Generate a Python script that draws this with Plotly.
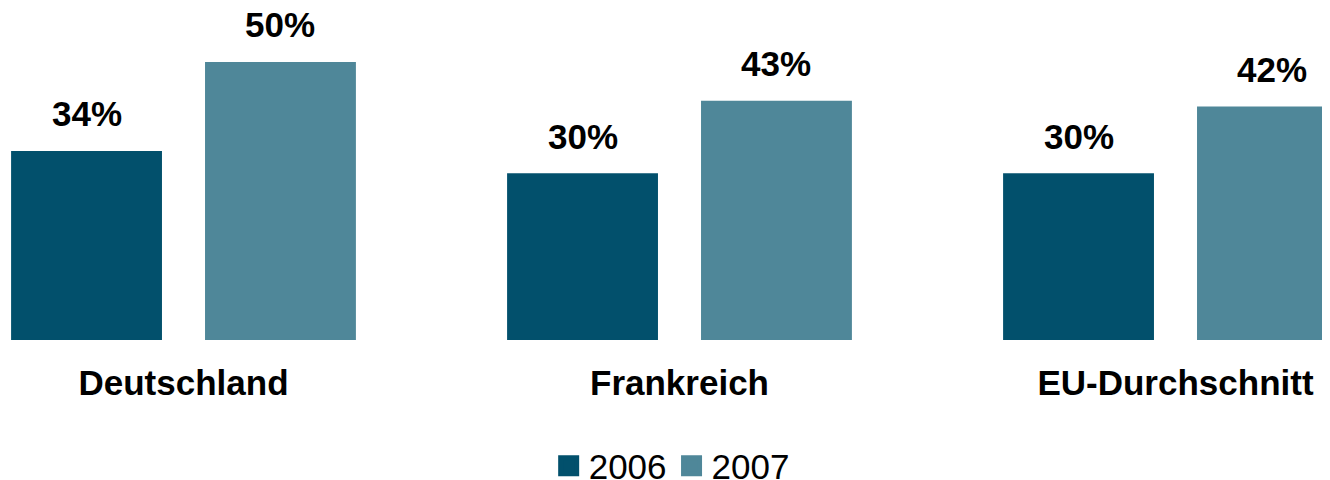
import plotly.graph_objects as go

categories = ["Deutschland", "Frankreich", "EU-Durchschnitt"]
years = ["2006", "2007"]
values_2006 = [34, 30, 30]
values_2007 = [50, 43, 42]
colors = ["#02506C", "#4F8799"]

series = [values_2006, values_2007]

fig = go.Figure()
for name, vals, col in zip(years, series, colors):
    fig.add_trace(go.Bar(x=categories, y=vals, name=name, marker_color=col,
                         marker_line_width=0, showlegend=False, hoverinfo="skip"))
# legend entries with larger square symbols
for name, col in zip(years, colors):
    fig.add_trace(go.Scatter(x=[None], y=[None], mode="markers", name=name,
                             marker=dict(symbol="square", size=16, color=col,
                                         line=dict(width=5, color=col))))

group_w = 496.0
bargap = 0.218
bargroupgap = 0.222
slot = group_w * (1 - bargap) / 2
offsets = [-slot / 2, slot / 2]
for k, vals in enumerate(series):
    for c, v in zip(categories, vals):
        fig.add_annotation(x=c, y=v, text=f"<b>{v}%</b>", showarrow=False,
                           xshift=offsets[k], yshift=37, yanchor="middle",
                           font=dict(family="Liberation Sans, Arial", size=35, color="black"))

plot_h = 332
fig.update_layout(
    width=1330, height=480,
    margin=dict(l=0, r=0, t=0, b=480 - plot_h),
    plot_bgcolor="white", paper_bgcolor="white",
    barmode="group", bargap=bargap, bargroupgap=bargroupgap,
    xaxis=dict(range=[-175.5 / group_w, (1330 - 175.5) / group_w],
               showgrid=False, zeroline=False, showline=False, ticks="",
               tickfont=dict(family="Liberation Sans, Arial", size=35, color="black"),
               ticklabelstandoff=19),
    yaxis=dict(range=[0, plot_h / 5.5625], visible=False),
    legend=dict(orientation="h", x=0.499, xanchor="center",
                yref="container", y=(480 - 458) / 480, yanchor="middle",
                font=dict(family="Liberation Sans, Arial", size=35, color="black"),
                itemsizing="trace"),
    showlegend=True,
)
fig.update_xaxes(tickvals=categories, ticktext=[f"<b>{c}</b>" for c in categories])

fig.write_html("out.html")
